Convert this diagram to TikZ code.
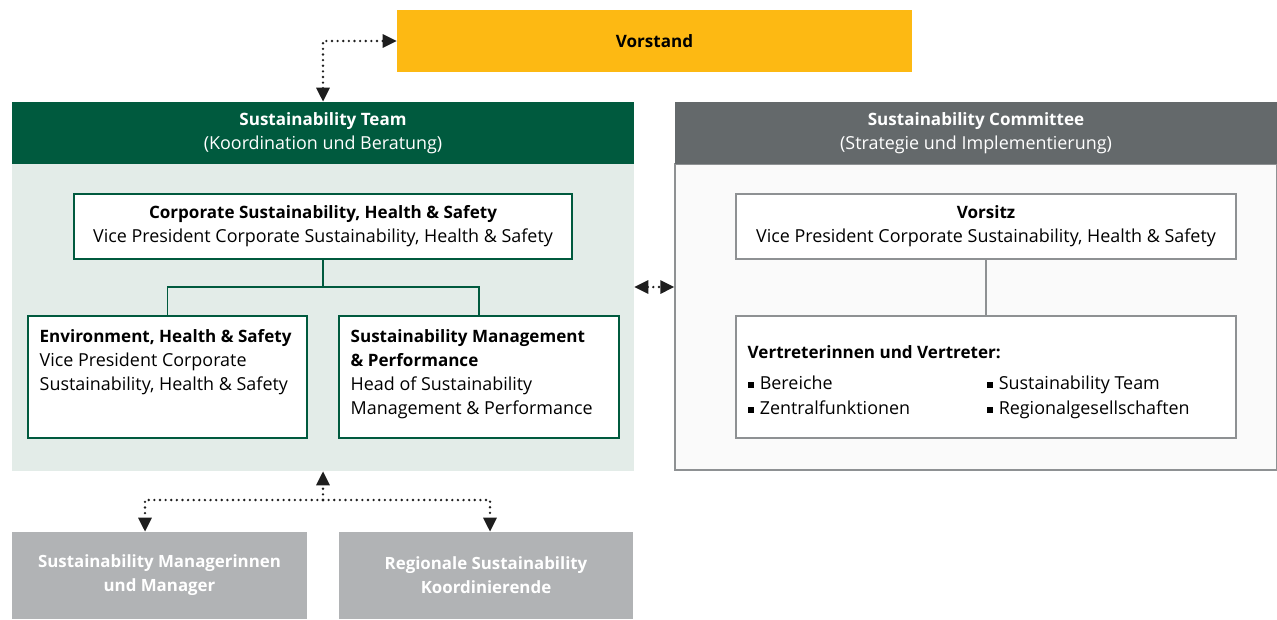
\documentclass[tikz,border=0pt]{standalone}
\usepackage{fontspec}
\setmainfont{Open Sans}
\usepackage{tikz}
\usetikzlibrary{positioning,calc,arrows.meta}

\definecolor{vsgold}{HTML}{FDB913}
\definecolor{teamgreen}{HTML}{005A3E}
\definecolor{teamlight}{HTML}{E3ECE8}
\definecolor{commgray}{HTML}{64696B}
\definecolor{commlight}{HTML}{FAFAFA}
\definecolor{commline}{HTML}{8E9193}
\definecolor{boxgray}{HTML}{B1B3B5}
\definecolor{dotblack}{HTML}{1E1E1E}

\tikzset{
	headbox/.style={rectangle, minimum height=1.24cm, text=white, align=center, inner sep=0pt},
	whitebox/.style={rectangle, fill=white, line width=0.8pt, inner sep=0pt},
	greybox/.style={rectangle, fill=boxgray, text=white, minimum height=1.74cm, align=center, inner sep=0pt, font=\fontsize{9.6pt}{13.6pt}\selectfont\bfseries},
	txt/.style={inner sep=0pt, align=left, anchor=north west},
	dotline/.style={draw=dotblack, line width=1.5pt, line cap=round, dash pattern=on 0pt off 3.2pt},
	vtip/.tip={Triangle[length=8pt,width=7.5pt]},
}
\newcommand{\bul}{\raisebox{0.9pt}{\rule{3.4pt}{3.4pt}}\hspace{3.5pt}}
\newcommand{\tb}[1]{{\fontsize{9.7pt}{13.6pt}\selectfont\bfseries #1}}

\begin{document}
\begin{tikzpicture}[x=0.02cm, y=-0.02cm, font=\fontsize{10.2pt}{13.6pt}\selectfont]
	\useasboundingbox (0,0) rectangle (1277,619);
	
	\node[rectangle, fill=vsgold, minimum width=10.3cm, minimum height=1.24cm] (vorstand) at (654.5,41) {\tb{Vorstand}};
	
	\node[rectangle, fill=teamlight, minimum width=12.44cm, minimum height=6.14cm, inner sep=0pt] (teambody) at (323,317.5) {};
	\node[headbox, fill=teamgreen, minimum width=12.44cm] (teamhead) at (323,133) {\tb{Sustainability Team}\\(Koordination und Beratung)};
	\node[whitebox, draw=teamgreen, minimum width=9.96cm, minimum height=1.3cm, align=center] (corp) at (323,226.5) {\tb{Corporate Sustainability, Health \& Safety}\\Vice President Corporate Sustainability, Health \& Safety};
	\node[whitebox, draw=teamgreen, minimum width=5.58cm, minimum height=2.44cm] (env) at (167.5,377) {};
	\node[whitebox, draw=teamgreen, minimum width=5.6cm, minimum height=2.44cm] (smp) at (479,377) {};
	\node[txt] (envtext) at ([xshift=0.24cm,yshift=-0.28cm]env.north west) {\tb{Environment, Health \& Safety}\\Vice President Corporate\\Sustainability, Health \& Safety};
	\node[txt] (smptext) at ([xshift=0.24cm,yshift=-0.28cm]smp.north west) {\tb{Sustainability Management}\\\tb{\& Performance}\\Head of Sustainability\\Management \& Performance};
	\coordinate (hub) at (323,287);
	\draw[teamgreen, line width=0.8pt] (corp.south) -- (hub) -| (env.north);
	\draw[teamgreen, line width=0.8pt] (hub) -| (smp.north);
	
	\node[rectangle, fill=commlight, draw=commline, line width=0.8pt, minimum width=12.04cm, minimum height=6.12cm, inner sep=0pt] (commbody) at (976,317) {};
	\node[headbox, fill=commgray, minimum width=12.04cm] (commhead) at (976,133) {\tb{Sustainability Committee}\\(Strategie und Implementierung)};
	\node[whitebox, draw=commline, minimum width=10cm, minimum height=1.3cm, align=center] (vorsitz) at (986,226.5) {\tb{Vorsitz}\\Vice President Corporate Sustainability, Health \& Safety};
	\node[whitebox, draw=commline, minimum width=10cm, minimum height=2.44cm] (vertreter) at (986,377) {};
	\node[txt] (verttitle) at ([xshift=0.24cm,yshift=-0.6cm]vertreter.north west) {\tb{Vertreterinnen und Vertreter:}};
	\node[txt] (vertleft) at ([xshift=0.24cm,yshift=-1.2cm]vertreter.north west) {\bul Bereiche\\[0.6pt]\bul Zentralfunktionen};
	\node[txt] (vertright) at ([xshift=5.02cm,yshift=-1.2cm]vertreter.north west) {\bul Sustainability Team\\[0.6pt]\bul Regionalgesellschaften};
	\draw[commline, line width=0.8pt] (vorsitz) -- (vertreter);
	
	\node[greybox, minimum width=5.9cm] (managers) at (159.5,575.5) {Sustainability Managerinnen\\und Manager};
	\node[greybox, minimum width=5.88cm] (regional) at (486,575.5) {Regionale Sustainability\\Koordinierende};
	
	\draw[dotline, vtip-vtip] (teamhead.north -| hub) |- (vorstand.west);
	\draw[dotline, vtip-vtip] (teambody.east |- hub) -- (commbody.west |- hub);
	\coordinate (split) at (323,500);
	\draw[dotline, -vtip] (split) -- (split |- teambody.south);
	\draw[dotline, -vtip] (split) -| ([xshift=-0.29cm]managers.north);
	\draw[dotline, -vtip] (split) -| ([xshift=0.08cm]regional.north);
\end{tikzpicture}
\end{document}
